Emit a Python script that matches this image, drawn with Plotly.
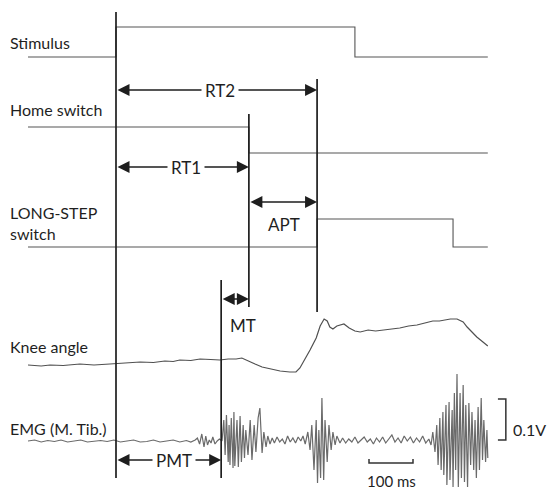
import plotly.graph_objects as go

# ---------------- data (time in ms, stimulus onset = 0) ----------------
t_start, t_end = -200, 845
t_stim_on, t_stim_off = 0, 543
t_emg_on = 239
t_home_off = 302
t_step_on, t_step_off = 457, 766

# vertical levels of the switch traces (display rows, smaller = higher)
stim_low, stim_high = 57, 27
home_high, home_low = 127, 153
step_low, step_high = 247, 219

# knee angle trace
knee_t = [-200, -170, -150, -120, -82, -50, -14, 20, 55, 85, 111, 130, 145, 170, 191, 215, 236, 255, 273, 286,
          300, 316, 332, 350, 373, 395, 409, 418, 430, 441, 455, 464, 473, 480, 486, 493, 502, 511, 518, 530,
          543, 555, 573, 590, 607, 625, 645, 665, 684, 702, 720, 735, 748, 760, 775, 789, 798, 809, 820, 834, 845]
knee_y = [365, 366, 365, 365.5, 364, 365, 364, 363, 362, 362.5, 361, 361.5, 360, 360.5, 359, 359.5, 360, 359, 359, 358,
          361, 364, 367, 369, 371, 372, 372, 368, 359, 350, 338, 326, 319, 321, 327, 329, 326, 325, 324, 328,
          331, 332, 330, 331, 330, 329, 328, 326, 325, 323, 321, 321, 320, 319, 319, 322, 327, 332, 337, 342, 346]

# EMG (M. Tib.) trace
emg_t = [-200, -185, -170, -155, -140, -125, -110, -95, -80, -65, -50, -35, -20, -5, 10, 25, 40, 55, 70, 85,
         100, 115, 130, 145, 160, 170, 180,
         185, 190, 195, 200, 204, 208, 212, 216, 220, 225, 230, 235,
         241, 245, 248, 251, 255, 257, 259, 262, 266, 268, 270, 275, 278, 282, 285, 289, 292, 295, 300, 305,
         309, 314, 318, 323, 327, 332, 336, 341, 345, 350,
         355, 360, 366, 372, 378, 384, 390, 396, 402, 408, 414, 420, 425, 430,
         436, 441, 445, 450, 455, 458, 461, 465, 468, 472, 475, 480, 484, 489, 493, 498, 502, 509,
         515, 522, 529, 536, 543, 550, 557, 564, 571, 578, 585, 592, 599, 606, 613, 620, 627, 634, 641, 648,
         655, 662, 669, 676, 683, 690, 697, 704, 711,
         716, 720, 725, 729, 732, 736, 739, 743, 745, 750, 752, 757, 759, 764, 766, 769, 772, 775, 778, 782,
         785, 789, 792, 795, 799, 802, 806, 809, 813, 816, 819, 823, 826, 830, 833, 836, 840, 843, 845]
emg_y = [441, 440, 442, 440.5, 441.5, 440, 442, 441, 440, 442, 441, 440.5, 441.5, 440, 442, 441, 440, 442, 441.5, 440,
         442, 441, 440, 442, 440.5, 442, 440,
         438, 444, 434, 447, 436, 445, 440, 443, 437, 444, 441, 439,
         441, 420, 455, 415, 462, 425, 465, 418, 468, 412, 466, 420, 467, 416, 462, 425, 458, 430, 455, 420,
         460, 425, 452, 418, 408, 453, 432, 447, 436, 444,
         438, 443, 437, 442, 439, 444, 436, 442, 438, 443, 437, 441, 436, 444,
         432, 450, 425, 470, 420, 483, 430, 478, 398, 480, 420, 462, 425, 450, 432, 445, 436, 443,
         438, 443, 439, 442, 437, 443, 440, 437, 442, 439, 444, 438, 442, 437, 443, 439, 435, 442, 438, 443,
         436, 441, 437, 443, 438, 442, 436, 443, 439,
         445, 432, 452, 425, 465, 418, 470, 412, 475, 405, 485, 402, 480, 410, 487, 393, 470, 374, 487, 393,
         478, 385, 482, 405, 487, 403, 465, 412, 470, 420, 478, 407, 470, 398, 460, 420, 462, 430, 458]

# event marker lines: (time, top row, bottom row)
marker_t = [t_stim_on, t_emg_on, t_home_off, t_step_on]
marker_top = [12, 280, 114, 79]
marker_bottom = [478, 478, 307, 312]

# interval arrows: (start, end, row, label, label time, label row)
intervals = [
    (t_stim_on, t_step_on, 90, "RT2", 236, 90),
    (t_stim_on, t_home_off, 167, "RT1", 159, 167),
    (t_home_off, t_step_on, 202, "APT", 382, 224),
    (t_emg_on, t_home_off, 299, "MT", 289, 325),
    (t_stim_on, t_emg_on, 460, "PMT", 132, 460),
]

# scale bars
time_bar = (575, 675, 463)       # 100 ms
volt_bar = (868, 886, 399, 440)  # 0.1 V

labels = [("Stimulus", 42), ("Home switch", 109), ("LONG-STEP<br>switch", 223),
          ("Knee angle", 346), ("EMG (M. Tib.)", 428)]

# ---------------- figure ----------------
FONT = "Lato"
TXT = "#1f1f1f"
fig = go.Figure()

def step_trace(ts, ys, color="#555555"):
    fig.add_trace(go.Scatter(x=ts, y=ys, mode="lines", line=dict(color=color, width=1.1),
                             hoverinfo="skip", showlegend=False))

step_trace([t_start, t_stim_on, t_stim_on, t_stim_off, t_stim_off, t_end],
           [stim_low, stim_low, stim_high, stim_high, stim_low, stim_low])
step_trace([t_start, t_home_off, t_home_off, t_end],
           [home_high, home_high, home_low, home_low])
step_trace([t_start, t_step_on, t_step_on, t_step_off, t_step_off, t_end],
           [step_low, step_low, step_high, step_high, step_low, step_low])

fig.add_trace(go.Scatter(x=knee_t, y=knee_y, mode="lines", line=dict(color="#505050", width=1.2),
                         hoverinfo="skip", showlegend=False))
fig.add_trace(go.Scatter(x=emg_t, y=emg_y, mode="lines", line=dict(color="#6a6a6a", width=1.2),
                         hoverinfo="skip", showlegend=False))

# marker lines
mx, my = [], []
for t, a, b in zip(marker_t, marker_top, marker_bottom):
    mx += [t, t, None]
    my += [a, b, None]
fig.add_trace(go.Scatter(x=mx, y=my, mode="lines", line=dict(color="#1e1e1e", width=1.7),
                         hoverinfo="skip", showlegend=False))

# scale bars
t0, t1, row = time_bar
fig.add_trace(go.Scatter(x=[t0, t0, t1, t1], y=[row - 4, row, row, row - 4], mode="lines",
                         line=dict(color="#333333", width=1.5), hoverinfo="skip", showlegend=False))
v0, v1, top, bot = volt_bar
fig.add_trace(go.Scatter(x=[v0, v1, v1, v0], y=[top, top, bot, bot], mode="lines",
                         line=dict(color="#333333", width=1.5), hoverinfo="skip", showlegend=False))

ann = []
for a, b, row, text, lt, lr in intervals:
    ann.append(dict(x=b, y=row, ax=a, ay=row, xref="x", yref="y", axref="x", ayref="y",
                    text="", showarrow=True, arrowhead=2, startarrowhead=2, arrowside="end+start",
                    arrowsize=1.5, startarrowsize=1.5, arrowwidth=1.6, arrowcolor="#1e1e1e",
                    standoff=0, startstandoff=0))
    ann.append(dict(x=lt, y=lr, xref="x", yref="y", text=text, showarrow=False,
                    bgcolor="white", borderpad=3,
                    font=dict(family=FONT, size=17, color=TXT)))

for text, row in labels:
    ann.append(dict(x=8 / 547, y=row, xref="paper", yref="y", text=text, showarrow=False,
                    xanchor="left", align="left", font=dict(family=FONT, size=16, color=TXT)))

ann.append(dict(x=(t0 + t1) / 2, y=481, xref="x", yref="y", text="100 ms", showarrow=False,
                font=dict(family=FONT, size=15, color=TXT)))
ann.append(dict(x=v1 + 12, y=429, xref="x", yref="y", text="0.1V", showarrow=False, xanchor="left",
                font=dict(family=FONT, size=16, color=TXT)))

fig.update_layout(
    width=547, height=489, margin=dict(l=0, r=0, t=0, b=0),
    paper_bgcolor="white", plot_bgcolor="white",
    xaxis=dict(range=[-263.64, 979.55], visible=False, fixedrange=True),
    yaxis=dict(range=[489, 0], visible=False, fixedrange=True),
    annotations=ann,
)

fig.write_html("out.html", config={"displayModeBar": False},
               post_script="document.body.style.margin='0px';document.body.style.overflow='hidden';")
